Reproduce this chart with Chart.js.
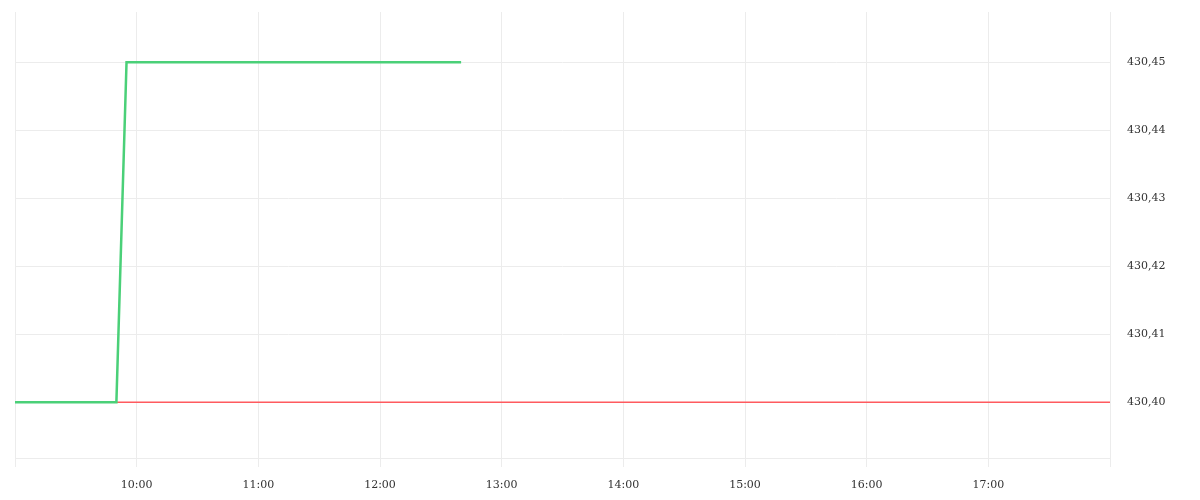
<!DOCTYPE html>
<html>
<head>
<meta charset="utf-8">
<script src="https://cdn.jsdelivr.net/npm/chart.js@4/dist/chart.umd.min.js"></script>
<style>
  html, body { margin: 0; padding: 0; background: #fff; }
  #wrap { width: 1200px; height: 500px; }
</style>
</head>
<body>
<div id="wrap"><canvas id="priceChart"></canvas></div>
<script>
// minutes since midnight
const priceTimes = [540, 590, 595, 760];
const priceValues = [430.40, 430.40, 430.45, 430.45];
const refTimes = [540, 1080];
const refValues = [430.40, 430.40];
const yTicks = [430.40, 430.41, 430.42, 430.43, 430.44, 430.45];
const xTickLabels = ['10:00', '11:00', '12:00', '13:00', '14:00', '15:00', '16:00', '17:00'];

const toPoints = (xs, ys) => xs.map((x, i) => ({ x: x, y: ys[i] }));

Chart.defaults.font.family = '"DejaVu Serif", serif';
Chart.defaults.font.size = 11;
Chart.defaults.color = '#333';

const ctx = document.getElementById('priceChart');
const priceChart = new Chart(ctx, {
    type: 'line',
    data: {
        datasets: [{
                label: 'price',
                data: toPoints(priceTimes, priceValues),
                borderColor: 'rgb(74, 208, 120)',
                borderWidth: 2.5,
                pointRadius: 0,
                fill: false,
                tension: 0
            },
            {
                label: 'previous close',
                data: toPoints(refTimes, refValues),
                borderColor: 'rgb(255, 90, 95)',
                borderWidth: 1.5,
                pointRadius: 0,
                fill: false
            },
        ]
    },
    options: {
        responsive: true,
        maintainAspectRatio: false,
        animation: false,
        layout: { padding: { left: 15, top: 12, right: 0, bottom: 0 } },
        plugins: {
            legend: { display: false },
            tooltip: { enabled: false }
        },
        scales: {
            x: {
                type: 'linear',
                min: 540,
                max: 1080,
                border: { color: '#ececec' },
                grid: { color: '#ececec', tickLength: 9 },
                afterFit: (s) => { s.height = 42; s.paddingLeft = 0; s.paddingRight = 0; },
                ticks: {
                    stepSize: 60,
                    padding: 12,
                    maxRotation: 0,
                    autoSkip: false,
                    callback: (v) => {
                        const lbl = String(v / 60).padStart(2, '0') + ':00';
                        return xTickLabels.includes(lbl) ? lbl : '';
                    }
                }
            },
            y: {
                position: 'right',
                min: 430.3918,
                max: 430.4574,
                border: { color: '#ececec' },
                grid: { color: '#ececec', drawTicks: false },
                afterBuildTicks: (s) => { s.ticks = yTicks.map(v => ({ value: v })); },
                afterFit: (s) => { s.width = 90; s.paddingTop = 0; s.paddingBottom = 0; },
                ticks: {
                    padding: 17,
                    callback: (v) => v.toFixed(2).replace('.', ',')
                }
            }
        }
    }
});
</script>
</body>
</html>
